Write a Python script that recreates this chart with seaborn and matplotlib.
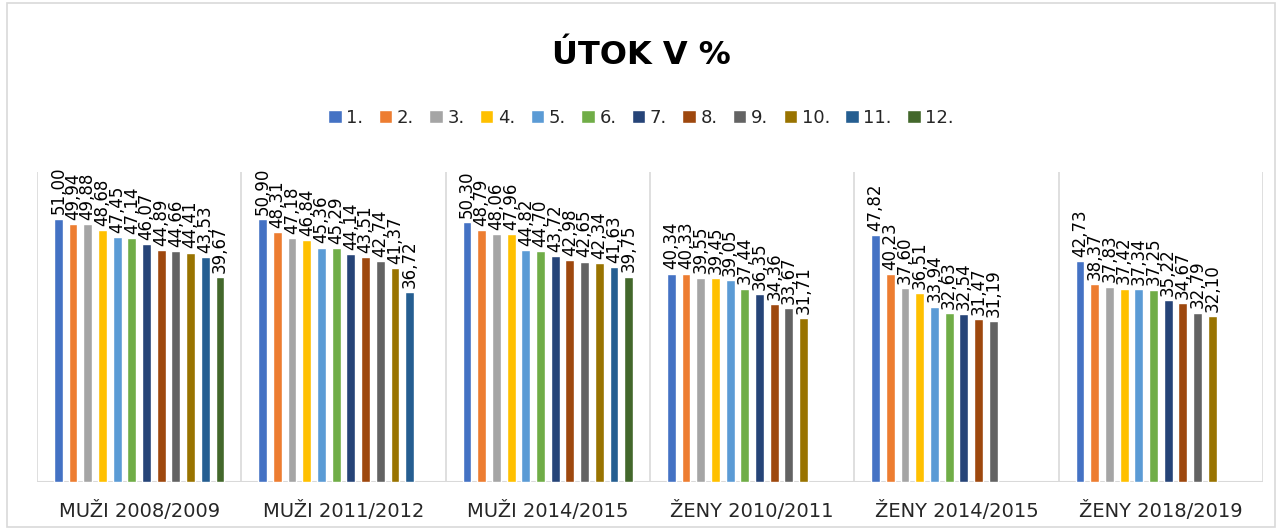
import pandas as pd
import matplotlib.pyplot as plt
import seaborn as sns
from matplotlib.patches import Rectangle

# Categories (seasons) and the placement labels
seasons = ['MUŽI 2008/2009', 'MUŽI 2011/2012', 'MUŽI 2014/2015',
           'ŽENY 2010/2011', 'ŽENY 2014/2015', 'ŽENY 2018/2019']
places = ['1.', '2.', '3.', '4.', '5.', '6.', '7.', '8.', '9.', '10.', '11.', '12.']

# attack efficiency in % per placement
muzi_2008 = [51.00, 49.94, 49.88, 48.68, 47.45, 47.14, 46.07, 44.89, 44.66, 44.41, 43.53, 39.67]
muzi_2011 = [50.90, 48.31, 47.18, 46.84, 45.36, 45.29, 44.14, 43.51, 42.74, 41.37, 36.72]
muzi_2014 = [50.30, 48.79, 48.06, 47.96, 44.82, 44.70, 43.72, 42.98, 42.65, 42.34, 41.63, 39.75]
zeny_2010 = [40.34, 40.33, 39.55, 39.45, 39.05, 37.44, 36.35, 34.36, 33.67, 31.71]
zeny_2014 = [47.82, 40.23, 37.60, 36.51, 33.94, 32.63, 32.54, 31.47, 31.19]
zeny_2018 = [42.73, 38.37, 37.83, 37.42, 37.34, 37.25, 35.22, 34.67, 32.79, 32.10]

colors = ['#4472C4', '#ED7D31', '#A5A5A5', '#FFC000', '#5B9BD5', '#70AD47',
          '#264478', '#9E480E', '#636363', '#997300', '#255E91', '#43682B']

rows = []
for season, vals in zip(seasons, [muzi_2008, muzi_2011, muzi_2014, zeny_2010, zeny_2014, zeny_2018]):
    for place, v in zip(places, vals):
        rows.append({'season': season, 'place': place, 'value': v})
df = pd.DataFrame(rows)

sns.set_theme(style="white")
plt.rcParams['font.family'] = ['DejaVu Sans']

fig = plt.figure(figsize=(12.82, 5.30), dpi=100)
ax = fig.add_axes([37 / 1282, 1 - 482 / 530, (1263 - 37) / 1282, (482 - 172) / 530])

sns.barplot(data=df, x='season', y='value', hue='place', order=seasons, hue_order=places,
            palette=colors, width=0.863, gap=0.4, saturation=1, ax=ax, legend=True)

for cont in ax.containers:
    labels = [f'{v:.2f}'.replace('.', ',') for v in cont.datavalues]
    ax.bar_label(cont, labels=labels, rotation=90, padding=3, fontsize=12, color='#000000')

ax.set_ylim(0, 60)
ax.set_xlim(-0.5, len(seasons) - 0.5)
for x in [i - 0.5 for i in range(len(seasons) + 1)]:
    ax.axvline(x, color='#D9D9D9', lw=1.2, zorder=0)
ax.axhline(0, color='#D9D9D9', lw=1.5, zorder=0)
for s in ax.spines.values():
    s.set_visible(False)
ax.set_yticks([])
ax.set_xlabel('')
ax.set_ylabel('')
ax.tick_params(axis='x', length=0, pad=14, labelsize=14, labelcolor='#262626')

handles, labs = ax.get_legend_handles_labels()
ax.legend(handles, labs, ncol=12, loc='center', bbox_to_anchor=(0.5, 1 - 118 / 530),
          bbox_transform=fig.transFigure, frameon=False, fontsize=13,
          handlelength=0.75, handleheight=0.75, handletextpad=0.25, columnspacing=0.85)

fig.text(0.5, 1 - 55 / 530, 'ÚTOK V %', ha='center', va='center',
         fontsize=23, fontweight='bold', color='#000000')

fig.patches.append(Rectangle((7 / 1282, 3 / 530), 1268 / 1282, 524 / 530,
                             transform=fig.transFigure, fill=False,
                             edgecolor='#D9D9D9', lw=1.2))

fig.savefig('out.png', dpi=100)
